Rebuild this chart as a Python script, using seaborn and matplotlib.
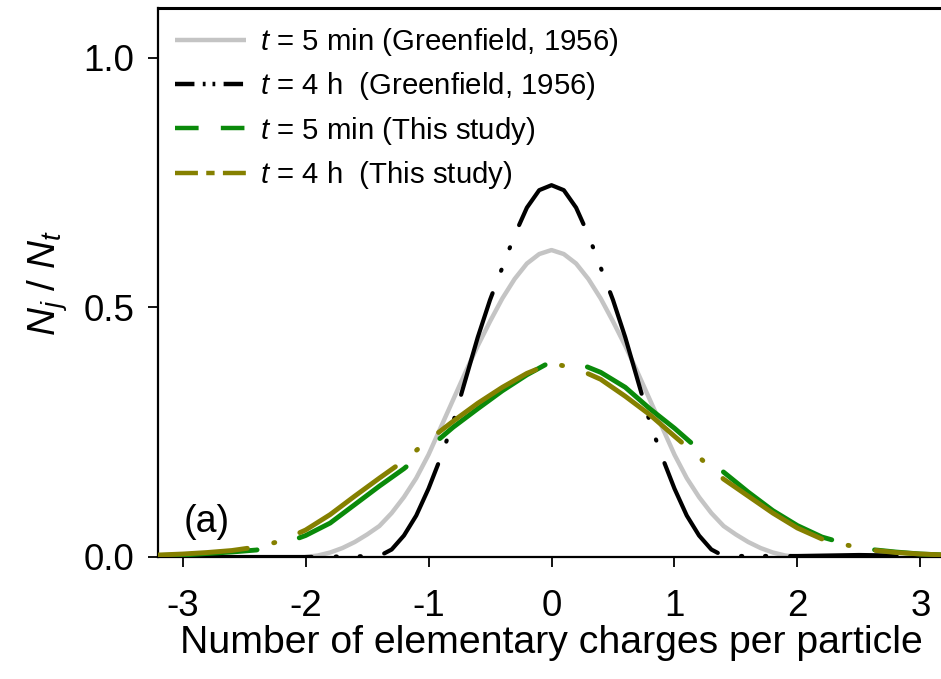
import numpy as np
import pandas as pd
import matplotlib
matplotlib.use("Agg")
import matplotlib.pyplot as plt
from matplotlib.lines import Line2D
import seaborn as sns

# ---------------- data ----------------
x_gray = [-2.0, -1.9, -1.8, -1.7, -1.6, -1.5, -1.4, -1.3, -1.2, -1.1, -1.0,
          -0.9, -0.8, -0.7, -0.6, -0.5, -0.4, -0.3, -0.2, -0.1, 0.0,
          0.1, 0.2, 0.3, 0.4, 0.5, 0.6, 0.7, 0.8, 0.9, 1.0,
          1.1, 1.2, 1.3, 1.4, 1.5, 1.6, 1.7, 1.8, 1.9, 2.0]
y_gray = [0.0, 0.003, 0.009, 0.018, 0.03, 0.045, 0.062, 0.088, 0.12, 0.158, 0.205,
          0.26, 0.315, 0.37, 0.423, 0.472, 0.518, 0.557, 0.588, 0.607, 0.615,
          0.607, 0.588, 0.557, 0.518, 0.472, 0.423, 0.37, 0.315, 0.26, 0.205,
          0.158, 0.12, 0.088, 0.062, 0.045, 0.03, 0.018, 0.009, 0.003, 0.0]

x_black = [-3.2, -2.5, -2.0, -1.4, -1.3, -1.2, -1.1, -1.0, -0.9, -0.8, -0.7, -0.6,
           -0.5, -0.4, -0.3, -0.2, -0.1, 0.0, 0.1, 0.2, 0.3, 0.4, 0.5, 0.6,
           0.7, 0.8, 0.9, 1.0, 1.1, 1.2, 1.3, 1.4, 2.0, 2.5, 2.8, 3.2]
y_black = [0.0, 0.0, 0.0, 0.002, 0.015, 0.043, 0.083, 0.137, 0.2, 0.27, 0.355, 0.44,
           0.515, 0.58, 0.645, 0.70, 0.735, 0.745, 0.735, 0.70, 0.645, 0.58, 0.515, 0.44,
           0.355, 0.27, 0.2, 0.137, 0.083, 0.043, 0.015, 0.002, 0.002, 0.004, 0.003, 0.0]

x_study = [-3.2, -3.0, -2.8, -2.6, -2.4, -2.2, -2.0, -1.8, -1.6, -1.4, -1.2, -1.0,
           -0.8, -0.6, -0.4, -0.2, 0.0, 0.2, 0.4, 0.6, 0.8, 1.0, 1.2, 1.4,
           1.6, 1.8, 2.0, 2.2, 2.4, 2.6, 2.8, 3.0, 3.2]
y_green = [0.003, 0.004, 0.007, 0.01, 0.014, 0.025, 0.043, 0.068, 0.105, 0.142, 0.177, 0.218,
           0.26, 0.297, 0.333, 0.365, 0.392, 0.39, 0.37, 0.34, 0.297, 0.258, 0.215, 0.17,
           0.13, 0.093, 0.063, 0.04, 0.026, 0.015, 0.01, 0.006, 0.004]
y_olive = [0.004, 0.006, 0.009, 0.013, 0.02, 0.032, 0.054, 0.085, 0.122, 0.158, 0.193, 0.234,
           0.272, 0.308, 0.34, 0.368, 0.388, 0.378, 0.356, 0.322, 0.285, 0.242, 0.2, 0.156,
           0.122, 0.088, 0.058, 0.036, 0.024, 0.014, 0.009, 0.006, 0.004]

labels = [r"$t$ = 5 min (Greenfield, 1956)",
          r"$t$ = 4 h  (Greenfield, 1956)",
          r"$t$ = 5 min (This study)",
          r"$t$ = 4 h  (This study)"]
x_ticks = [-3, -2, -1, 0, 1, 2, 3]
x_ticklabels = ["-3", "-2", "-1", "0", "1", "2", "3"]
y_ticks = [0.0, 0.5, 1.0]
y_ticklabels = ["0.0", "0.5", "1.0"]

# ---------------- style ----------------
sns.set_style("ticks")
plt.rcParams["font.family"] = ["Liberation Sans", "DejaVu Sans"]
plt.rcParams["mathtext.fontset"] = "custom"
plt.rcParams["mathtext.rm"] = "Liberation Sans"
plt.rcParams["mathtext.it"] = "Liberation Sans:italic"
plt.rcParams["lines.scale_dashes"] = False
plt.rcParams["text.color"] = "black"
plt.rcParams["axes.labelcolor"] = "black"
plt.rcParams["xtick.color"] = "black"
plt.rcParams["ytick.color"] = "black"

C_GRAY = "#c4c4c4"
C_BLACK = "#000000"
C_GREEN = "#0a8a0a"
C_OLIVE = "#858000"

W, H = 941, 679
fig = plt.figure(figsize=(W / 100, H / 100), dpi=100)
ax_left, ax_right, ax_top, ax_bottom = 158, 945, 8, 557
ax = fig.add_axes([ax_left / W, 1 - ax_bottom / H, (ax_right - ax_left) / W,
                   (ax_bottom - ax_top) / H])
ax.set_xlim(-3.2, 3.2)
ax.set_ylim(0, 1.1)

PT = 0.72  # points per pixel at 100 dpi
DOT = 0.8


def arc(x, y):
    """cumulative display-space arc length (pixels) along a series"""
    d = ax.transData.transform(np.column_stack([x, y]))
    seg = np.hypot(np.diff(d[:, 0]), np.diff(d[:, 1]))
    s = np.concatenate([[0.0], np.cumsum(seg)])
    return lambda xq: float(np.interp(xq, x, s))


def draw(x, y, color, lw, z):
    sns.lineplot(x=x, y=y, ax=ax, color=color, linewidth=lw, sort=False,
                 estimator=None, zorder=z)
    line = ax.lines[-1]
    line.set_solid_capstyle("round")
    line.set_dash_capstyle("round")
    return line


# gray: solid
draw(x_gray, y_gray, C_GRAY, 3.2, 2)

# black: dash-dot-dot, dash centred on the peak
ln = draw(x_black, y_black, C_BLACK, 3.0, 3)
s = arc(x_black, y_black)
P = (s(0.82) - s(-0.82)) / 3.0
g = 24.0
D = P - 3 * g
off = (D / 2 - s(0.0)) % P
ln.set_linestyle((off * PT, [D * PT - DOT, g * PT, DOT, g * PT - DOT, DOT, g * PT]))

# green: long dashes, gap centred at x=0.12
ln = draw(x_study, y_green, C_GREEN, 3.5, 4)
s = arc(x_study, y_green)
P = (s(1.28) - s(-1.03)) / 2.0
G = 44.0
off = (P - G / 2 - s(0.12)) % P
ln.set_linestyle((off * PT, [(P - G) * PT, G * PT]))

# olive: dash-dot, dot at x=0.09
ln = draw(x_study, y_olive, C_OLIVE, 3.5, 5)
s = arc(x_study, y_olive)
P = (s(1.24) - s(-1.08)) / 2.0
g = 27.0
off = (P - g - s(0.09)) % P
ln.set_linestyle((off * PT, [(P - 2 * g) * PT - DOT, g * PT, DOT, g * PT]))

ax.set_xticks(x_ticks)
ax.set_xticklabels(x_ticklabels)
ax.set_yticks(y_ticks)
ax.set_yticklabels(y_ticklabels)
ax.tick_params(axis="both", direction="out", length=7, width=1.3, labelsize=26.5,
               colors="black")
ax.tick_params(axis="x", pad=16)
ax.tick_params(axis="y", pad=10)
for sp in ["left", "top", "bottom"]:
    ax.spines[sp].set_visible(True)
    ax.spines[sp].set_linewidth(1.6)
    ax.spines[sp].set_color("black")
ax.spines["top"].set_linewidth(2.2)
ax.spines["right"].set_visible(False)

ax.set_xlabel("Number of elementary charges per particle", fontsize=28.3, va="top")
ax.xaxis.set_label_coords(0.5, -0.124)
ax.set_ylabel(r"$N_j\ /\ N_t$", fontsize=28, labelpad=10)

ax.text(-2.99, 0.07, "(a)", fontsize=27, ha="left", va="center")

handles = [
    Line2D([], [], color=C_GRAY, lw=3.2, solid_capstyle="butt"),
    Line2D([], [], color=C_BLACK, lw=3.2, dash_capstyle="butt",
           linestyle=(0, [14, 6, 2, 5, 2, 6])),
    Line2D([], [], color=C_GREEN, lw=3.2, dash_capstyle="butt",
           linestyle=(0, [17, 16])),
    Line2D([], [], color=C_OLIVE, lw=3.2, dash_capstyle="butt",
           linestyle=(0, [16.5, 6, 6, 6])),
]
leg = fig.legend(handles, labels, loc="upper left",
                 bbox_to_anchor=(175 / W, 1 - 26 / H), frameon=False,
                 fontsize=21.2, handlelength=2.41, handletextpad=0.48,
                 labelspacing=0.42, borderpad=0, borderaxespad=0)

fig.savefig("out.png", dpi=100)
